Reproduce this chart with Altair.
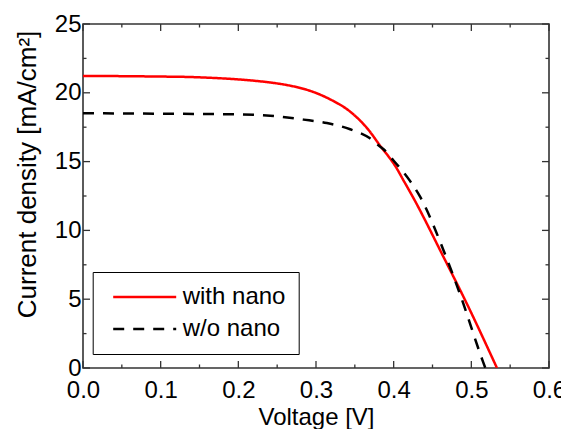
import altair as alt
import pandas as pd

# ---- data ----
series = ["with nano", "w/o nano"]

v_with = [0.0, 0.05, 0.10, 0.129, 0.16, 0.193, 0.22, 0.245, 0.2665, 0.292, 0.318, 0.344, 0.3695, 0.380, 0.404, 0.4124, 0.425, 0.464, 0.494, 0.533]
j_with = [21.23, 21.21, 21.18, 21.16, 21.10, 21.00, 20.88, 20.72, 20.52, 20.15, 19.53, 18.63, 17.17, 16.35, 14.50, 13.66, 12.40, 8.09, 4.70, 0.0]

v_wo = [0.0, 0.05, 0.10, 0.15, 0.193, 0.241, 0.284, 0.314, 0.344, 0.3695, 0.380, 0.387, 0.3995, 0.421, 0.434, 0.464, 0.485, 0.515, 0.518]
j_wo = [18.51, 18.50, 18.48, 18.46, 18.44, 18.33, 18.05, 17.80, 17.35, 16.69, 16.20, 15.90, 15.10, 13.60, 12.45, 8.58, 5.43, 0.46, 0.0]

x_major = [0.0, 0.1, 0.2, 0.3, 0.4, 0.5, 0.6]
x_minor = [0.05, 0.15, 0.25, 0.35, 0.45, 0.55]
y_major = [0, 5, 10, 15, 20, 25]
y_minor = [2.5, 7.5, 12.5, 17.5, 22.5]

W, H = 466, 344
FONT = "Liberation Sans"
FRAME = "#333333"

df = pd.concat([
    pd.DataFrame({"V": v_with, "J": j_with, "series": series[0]}),
    pd.DataFrame({"V": v_wo, "J": j_wo, "series": series[1]}),
])

x_scale = alt.Scale(domain=[0, 0.6], nice=False, zero=False)
y_scale = alt.Scale(domain=[0, 25], nice=False)

x_axis = alt.Axis(
    values=x_major, format=".1f", title="Voltage [V]",
    labelPadding=10, titleBaseline="alphabetic", titleY=56, titleX=W / 2, titleAlign="center")
y_axis = alt.Axis(
    values=y_major, format="d", title="Current density [mA/cm²]",
    labelPadding=2, titleFontSize=26, titleAngle=270, titleBaseline="alphabetic",
    titleX=-48, titleY=150, titleAlign="center")

leg = alt.Legend(
    title=None, orient="none", legendX=9.7, legendY=248, direction="vertical",
    fillColor="white", strokeColor="black", padding=13,
    symbolType="M-3,0H3", symbolSize=441, symbolStrokeWidth=2.5, symbolOffset=27,
    labelFont=FONT, labelFontSize=24, labelColor="black", labelOffset=26, rowPadding=8,
    labelExpr="datum.label + '\u00a0\u00a0'",
)

lines = alt.Chart(df).mark_line(strokeWidth=2.5, interpolate="monotone", clip=True).encode(
    x=alt.X("V:Q", scale=x_scale, axis=x_axis),
    y=alt.Y("J:Q", scale=y_scale, axis=y_axis),
    color=alt.Color("series:N", scale=alt.Scale(domain=series, range=["#ff0000", "#000000"]), legend=leg),
    strokeDash=alt.StrokeDash("series:N", scale=alt.Scale(domain=series, range=[[1, 0], [11, 9]]), legend=leg),
    order=alt.Order("V:Q"),
)

def xticks(vals, length):
    d = pd.DataFrame({"V": vals})
    base = alt.Chart(d).mark_rule(color=FRAME, strokeWidth=1.3)
    bottom = base.encode(x=alt.X("V:Q", scale=x_scale, axis=x_axis), y=alt.value(H), y2=alt.value(H - length))
    top = base.encode(x=alt.X("V:Q", scale=x_scale, axis=x_axis), y=alt.value(0), y2=alt.value(length))
    return [bottom, top]

def yticks(vals, length):
    d = pd.DataFrame({"J": vals})
    base = alt.Chart(d).mark_rule(color=FRAME, strokeWidth=1.3)
    left = base.encode(y=alt.Y("J:Q", scale=y_scale, axis=y_axis), x=alt.value(0), x2=alt.value(length))
    right = base.encode(y=alt.Y("J:Q", scale=y_scale, axis=y_axis), x=alt.value(W), x2=alt.value(W - length))
    return [left, right]

layers = [lines] + xticks(x_major, 7) + xticks(x_minor, 3.5) + yticks(y_major, 7) + yticks(y_minor, 3.5)

chart = alt.layer(*layers).properties(
    width=W, height=H,
    autosize=alt.AutoSizeParams(type="none"),
    padding={"left": 75, "top": 16, "right": 12, "bottom": 61},
).configure_view(
    stroke=FRAME, strokeWidth=1.6,
).configure_axis(
    domain=False, ticks=False, tickSize=0, grid=False,
    labelFont=FONT, labelFontSize=24, labelColor="black",
    titleFont=FONT, titleFontSize=24, titleColor="black", titleFontWeight="normal",
    labelOverlap=False, labelFlush=False, labelBound=False,
)

chart.save("out.html", embed_options={"renderer": "svg", "actions": False})
